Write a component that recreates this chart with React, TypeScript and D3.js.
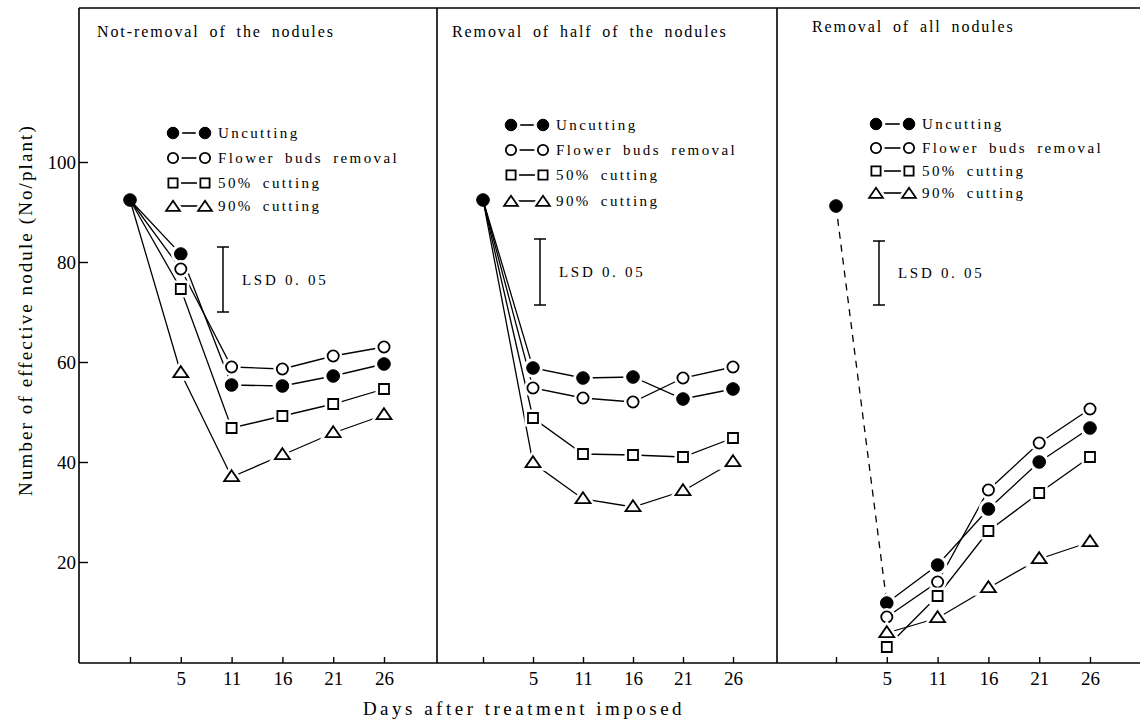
import React from "react";
import * as d3 from "d3";

// days after treatment (0 = start, unlabeled)
const days = ["0", "5", "11", "16", "21", "26"];
const panelTitles = [
  "Not-removal of the nodules",
  "Removal of half of the nodules",
  "Removal of all nodules",
];
const seriesNames = ["Uncutting", "Flower buds removal", "50% cutting", "90% cutting"];
const yTicks = [20, 40, 60, 80, 100];

// value at day 0 for each panel
const startValues = [92.4, 92.4, 91.2];

// panel 1: not-removal (days 5..26)
const uncut1 = [81.6, 55.4, 55.2, 57.2, 59.6];
const flower1 = [78.6, 59, 58.6, 61.2, 63];
const cut50_1 = [74.6, 46.8, 49.2, 51.6, 54.6];
const cut90_1 = [57.8, 37, 41.4, 45.8, 49.4];

// panel 2: half removed
const uncut2 = [58.8, 56.8, 57, 52.6, 54.6];
const flower2 = [54.8, 52.8, 52, 56.8, 59];
const cut50_2 = [48.8, 41.6, 41.4, 41, 44.8];
const cut90_2 = [39.8, 32.6, 31, 34.2, 40];

// panel 3: all removed
const uncut3 = [11.8, 19.4, 30.6, 40, 46.8];
const flower3 = [9, 16, 34.4, 43.8, 50.6];
const cut50_3 = [3, 13.2, 26.2, 33.8, 41];
const cut90_3 = [5.8, 8.8, 14.8, 20.6, 24];

// LSD 0.05 bars (top, bottom)
const lsdTop = [83, 84.6, 84.2];
const lsdBottom = [70, 71.4, 71.4];

const panelSeries = [
  [uncut1, flower1, cut50_1, cut90_1],
  [uncut2, flower2, cut50_2, cut90_2],
  [uncut3, flower3, cut50_3, cut90_3],
];

const W = 1140;
const H = 725;
const font = '"Liberation Serif", "Times New Roman", "DejaVu Serif", Times, serif';

const markerPath = (kind, size = 1) => {
  if (kind === 0 || kind === 1) {
    const r = (kind === 0 ? 6.3 : 5.6) * size;
    return d3.symbol(d3.symbolCircle, Math.PI * r * r)();
  }
  if (kind === 2) {
    const s = 5 * size;
    return `M${-s},${-s}H${s}V${s}H${-s}Z`;
  }
  const w = 7.5 * size;
  const h = 11 * size;
  return `M0,${-h * 0.62}L${w},${h * 0.38}L${-w},${h * 0.38}Z`;
};

function drawMarker(g, kind, x, y, halo = true, size = 1) {
  const d = markerPath(kind, size);
  if (halo) {
    g.append("path")
      .attr("d", d)
      .attr("transform", `translate(${x},${y})`)
      .attr("fill", "white")
      .attr("stroke", "white")
      .attr("stroke-width", 7);
  }
  g.append("path")
    .attr("d", d)
    .attr("transform", `translate(${x},${y})`)
    .attr("fill", kind === 0 ? "black" : "white")
    .attr("stroke", "black")
    .attr("stroke-width", kind === 0 ? 1 : 1.8)
    .attr("stroke-linejoin", "miter");
}

class NoduleChart extends React.Component {
  ref = React.createRef();

  componentDidMount() {
    this.draw();
  }

  draw() {
    const frameLeft = 79;
    const frameTop = 8;
    const frameBottom = 663;
    const dividers = [437, 777];
    const xRanges = [
      [130, 384],
      [483, 733],
      [836, 1090],
    ];
    const titlePos = [
      [97, 37],
      [452, 37],
      [812, 32],
    ];
    const legendPos = [
      { m1: 173, m2: 205, tx: 218, rows: [133, 158, 183, 206] },
      { m1: 511, m2: 543, tx: 556, rows: [125, 150, 175, 201] },
      { m1: 876, m2: 909, tx: 922, rows: [124, 148, 171, 193] },
    ];
    const lsdX = [223, 540, 879];

    const svg = d3
      .select(this.ref.current)
      .append("svg")
      .attr("width", W)
      .attr("height", H)
      .style("position", "absolute")
      .style("left", 0)
      .style("top", 0)
      .style("background", "white")
      .style("font-family", font);

    const y = d3.scaleLinear().domain([0, 100]).range([662, 162]);

    // frame
    const frame = svg.append("g").attr("stroke", "black").attr("stroke-width", 1.6);
    frame.append("line").attr("x1", frameLeft).attr("x2", W).attr("y1", frameTop).attr("y2", frameTop);
    frame.append("line").attr("x1", frameLeft).attr("x2", W).attr("y1", frameBottom).attr("y2", frameBottom);
    frame.append("line").attr("x1", frameLeft).attr("x2", frameLeft).attr("y1", frameTop).attr("y2", frameBottom);
    dividers.forEach(dx =>
      frame.append("line").attr("x1", dx).attr("x2", dx).attr("y1", frameTop).attr("y2", frameBottom)
    );

    // y axis
    svg
      .append("g")
      .attr("transform", `translate(${frameLeft},0)`)
      .call(d3.axisLeft(y).tickValues(yTicks).tickSize(-9).tickPadding(3))
      .call(g => g.attr("font-family", null))
      .call(g => g.select(".domain").remove())
      .call(g => g.selectAll("line").attr("stroke-width", 1.4))
      .call(g => g.selectAll("text").style("font-family", font).attr("font-size", 19));

    svg
      .append("text")
      .attr("transform", `translate(25,310) rotate(-90)`)
      .attr("text-anchor", "middle")
      .attr("dominant-baseline", "central")
      .style("font-family", font)
      .attr("font-size", 19)
      .attr("letter-spacing", 2.1)
      .text("Number of effective nodule (No/plant)");

    svg
      .append("text")
      .attr("x", 524)
      .attr("y", 715)
      .attr("text-anchor", "middle")
      .style("font-family", font)
      .attr("font-size", 19)
      .attr("letter-spacing", 3.5)
      .text("Days after treatment imposed");

    panelSeries.forEach((series, p) => {
      const x = d3.scalePoint().domain(days).range(xRanges[p]);
      const g = svg.append("g");

      g.append("g")
        .attr("transform", `translate(0,${frameBottom})`)
        .call(
          d3
            .axisBottom(x)
            .tickSize(-6)
            .tickPadding(9)
            .tickFormat(d => (d === "0" ? "" : d))
        )
        .call(a => a.attr("font-family", null))
        .call(a => a.select(".domain").remove())
        .call(a => a.selectAll("line").attr("stroke-width", 1.4))
        .call(a => a.selectAll("text").style("font-family", font).attr("font-size", 19));

      // title
      g.append("text")
        .attr("x", titlePos[p][0])
        .attr("y", titlePos[p][1])
        .style("font-family", font)
        .attr("font-size", 16)
        .attr("letter-spacing", 1.9)
        .attr("word-spacing", 4)
        .text(panelTitles[p]);

      const line = d3
        .line()
        .x(d => x(d.day))
        .y(d => y(d.value));

      const lines = g.append("g").attr("fill", "none").attr("stroke", "black").attr("stroke-width", 1.3);
      series.forEach(vals => {
        const pts = vals.map((v, i) => ({ day: days[i + 1], value: v }));
        if (p < 2) pts.unshift({ day: "0", value: startValues[p] });
        lines.append("path").attr("d", line(pts));
      });
      if (p === 2) {
        lines
          .append("path")
          .attr("stroke-dasharray", "7,6")
          .attr("d", line([
            { day: "0", value: startValues[p] },
            { day: "5", value: series[0][0] },
          ]));
      }

      const marks = g.append("g");
      series.forEach((vals, s) => {
        vals.forEach((v, i) => drawMarker(marks, s, x(days[i + 1]), y(v)));
      });
      drawMarker(marks, 0, x("0"), y(startValues[p]), false);

      // legend
      const lg = legendPos[p];
      const leg = g.append("g");
      seriesNames.forEach((name, s) => {
        const ry = lg.rows[s];
        leg.append("line")
          .attr("x1", lg.m1 + 5)
          .attr("x2", lg.m2 - 5)
          .attr("y1", ry)
          .attr("y2", ry)
          .attr("stroke", "black")
          .attr("stroke-width", 1.6);
        drawMarker(leg, s, lg.m1, ry + (s === 3 ? 1 : 0), true, 0.92);
        drawMarker(leg, s, lg.m2, ry + (s === 3 ? 1 : 0), true, 0.92);
        leg.append("text")
          .attr("x", lg.tx)
          .attr("y", ry)
          .attr("dominant-baseline", "central")
          .style("font-family", font)
          .attr("font-size", 15)
          .attr("letter-spacing", 2.4)
          .attr("word-spacing", 4)
          .text(name);
      });

      // LSD bar
      const lsd = g.append("g").attr("stroke", "black").attr("stroke-width", 1.5);
      lsd.append("line").attr("x1", lsdX[p]).attr("x2", lsdX[p]).attr("y1", y(lsdTop[p])).attr("y2", y(lsdBottom[p]));
      [lsdTop[p], lsdBottom[p]].forEach(v =>
        lsd.append("line").attr("x1", lsdX[p] - 6).attr("x2", lsdX[p] + 6).attr("y1", y(v)).attr("y2", y(v))
      );
      g.append("text")
        .attr("x", lsdX[p] + 19)
        .attr("y", y((lsdTop[p] + lsdBottom[p]) / 2))
        .attr("dominant-baseline", "central")
        .style("font-family", font)
        .attr("font-size", 15)
        .attr("letter-spacing", 2.7)
        .text("LSD 0. 05");
    });
  }

  render() {
    return <div ref={this.ref} />;
  }
}

export default function App() {
  return <NoduleChart />;
}
